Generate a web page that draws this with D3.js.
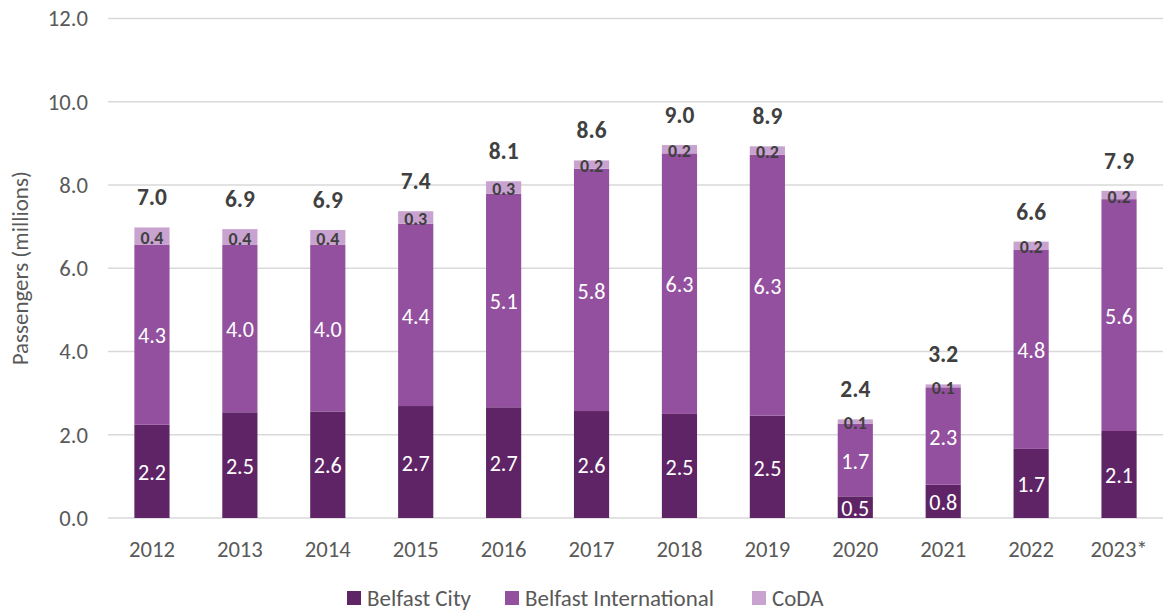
<!DOCTYPE html>
<html>
<head>
<meta charset="utf-8">
<script src="https://cdn.jsdelivr.net/npm/d3@7"></script>
<style>
  body { margin: 0; background: #fff; }
  svg { display: block; font-family: Carlito, Calibri, Lato, sans-serif; }
</style>
</head>
<body>
<svg id="chart" width="1163" height="615"></svg>
<script>
// ─── Data ────────────────────────────────────────────────────────────────
const years = ["2012","2013","2014","2015","2016","2017","2018","2019","2020","2021","2022","2023*"];
const belfastCity = [2.24, 2.54, 2.56, 2.69, 2.66, 2.57, 2.50, 2.46, 0.52, 0.80, 1.66, 2.09];
const belfastIntl = [4.33, 4.02, 4.00, 4.38, 5.13, 5.82, 6.26, 6.27, 1.74, 2.34, 4.79, 5.57];
const coda        = [0.41, 0.38, 0.36, 0.30, 0.30, 0.20, 0.20, 0.20, 0.11, 0.07, 0.19, 0.20];
const yTicks = [0, 2, 4, 6, 8, 10, 12];

const seriesNames  = ["Belfast City", "Belfast International", "CoDA"];
const seriesColors = ["#5f2466", "#93509e", "#c9a3cf"];

// ─── Layout ──────────────────────────────────────────────────────────────
const margin = { top: 18.5, right: 0, bottom: 97, left: 108 };
const W = 1163, H = 615;
const fmt = d3.format(".1f");

const svg = d3.select("#chart");

// size a font so a sample string has the width it has in the original (Calibri)
function fitSize(sample, target, weight = "normal") {
  const t = svg.append("text").attr("font-size", 100).attr("font-weight", weight).text(sample);
  const w = t.node().getComputedTextLength();
  t.remove();
  return 100 * target / w;
}
const fsTick   = fitSize("2012", 46);
const fsTotal  = fitSize("7.0", 30, "bold");
const fsInside = fitSize("2.2", 28);
const fsCoda   = fitSize("0.4", 23, "bold");
const fsLegend = fitSize("Belfast City", 104);

const x = d3.scaleBand()
  .domain(years)
  .range([margin.left, W - margin.right])
  .paddingInner(0.6)
  .paddingOuter(0.3);

const y = d3.scaleLinear()
  .domain([0, 12])
  .range([H - margin.bottom, margin.top]);

// gridlines + y labels
svg.append("g")
  .selectAll("line")
  .data(yTicks)
  .join("line")
  .attr("x1", margin.left).attr("x2", W - margin.right)
  .attr("y1", d => y(d)).attr("y2", d => y(d))
  .attr("stroke", "#d9d9d9").attr("stroke-width", 1.3);

svg.append("g")
  .selectAll("text")
  .data(yTicks)
  .join("text")
  .attr("x", 88).attr("y", d => y(d))
  .attr("dy", "0.35em")
  .attr("text-anchor", "end")
  .attr("fill", "#595959")
  .attr("font-size", fsTick)
  .text(d => fmt(d));

svg.append("text")
  .attr("transform", `translate(20,${(y(0) + y(12)) / 2}) rotate(-90)`)
  .attr("dy", "0.35em")
  .attr("text-anchor", "middle")
  .attr("fill", "#595959")
  .attr("font-size", fsLegend)
  .text("Passengers (millions)");

// stacked bars
const rows = years.map((yr, i) => ({ year: yr, s0: belfastCity[i], s1: belfastIntl[i], s2: coda[i] }));
const stack = d3.stack().keys(["s0", "s1", "s2"])(rows);

const layers = svg.append("g")
  .selectAll("g")
  .data(stack)
  .join("g")
  .attr("fill", (d, i) => seriesColors[i]);

layers.selectAll("rect")
  .data(d => d)
  .join("rect")
  .attr("x", d => x(d.data.year))
  .attr("width", x.bandwidth())
  .attr("y", d => y(d[1]))
  .attr("height", d => y(d[0]) - y(d[1]));

// segment labels
stack.forEach((layer, i) => {
  svg.append("g")
    .selectAll("text")
    .data(layer)
    .join("text")
    .attr("x", d => x(d.data.year) + x.bandwidth() / 2)
    .attr("y", d => (y(d[0]) + y(d[1])) / 2 + (i === 2 ? 1.5 : 1))
    .attr("dy", "0.35em")
    .attr("text-anchor", "middle")
    .attr("fill", i === 2 ? "#404040" : "#ffffff")
    .attr("font-weight", i === 2 ? "bold" : "normal")
    .attr("font-size", i === 2 ? fsCoda : fsInside)
    .text(d => fmt(d[1] - d[0]));
});

// totals
svg.append("g")
  .selectAll("text")
  .data(rows)
  .join("text")
  .attr("x", d => x(d.year) + x.bandwidth() / 2)
  .attr("y", d => y(d.s0 + d.s1 + d.s2) - 22)
  .attr("text-anchor", "middle")
  .attr("fill", "#404040")
  .attr("font-weight", "bold")
  .attr("font-size", fsTotal)
  .text(d => fmt(d.s0 + d.s1 + d.s2));

// x labels
svg.append("g")
  .selectAll("text")
  .data(years)
  .join("text")
  .attr("x", d => x(d) + x.bandwidth() / 2)
  .attr("y", y(0) + 39)
  .attr("text-anchor", "middle")
  .attr("fill", "#595959")
  .attr("font-size", fsTick)
  .text(d => d);

// legend
const legendX = [340, 498, 745];
const legend = svg.append("g")
  .selectAll("g")
  .data(seriesNames)
  .join("g")
  .attr("transform", (d, i) => `translate(${legendX[i]},598)`);

legend.append("rect")
  .attr("x", 7).attr("y", -7)
  .attr("width", 14).attr("height", 14)
  .attr("fill", (d, i) => seriesColors[i]);

legend.append("text")
  .attr("x", 27)
  .attr("dy", "0.35em")
  .attr("fill", "#595959")
  .attr("font-size", fsLegend)
  .text(d => d);
</script>
</body>
</html>
